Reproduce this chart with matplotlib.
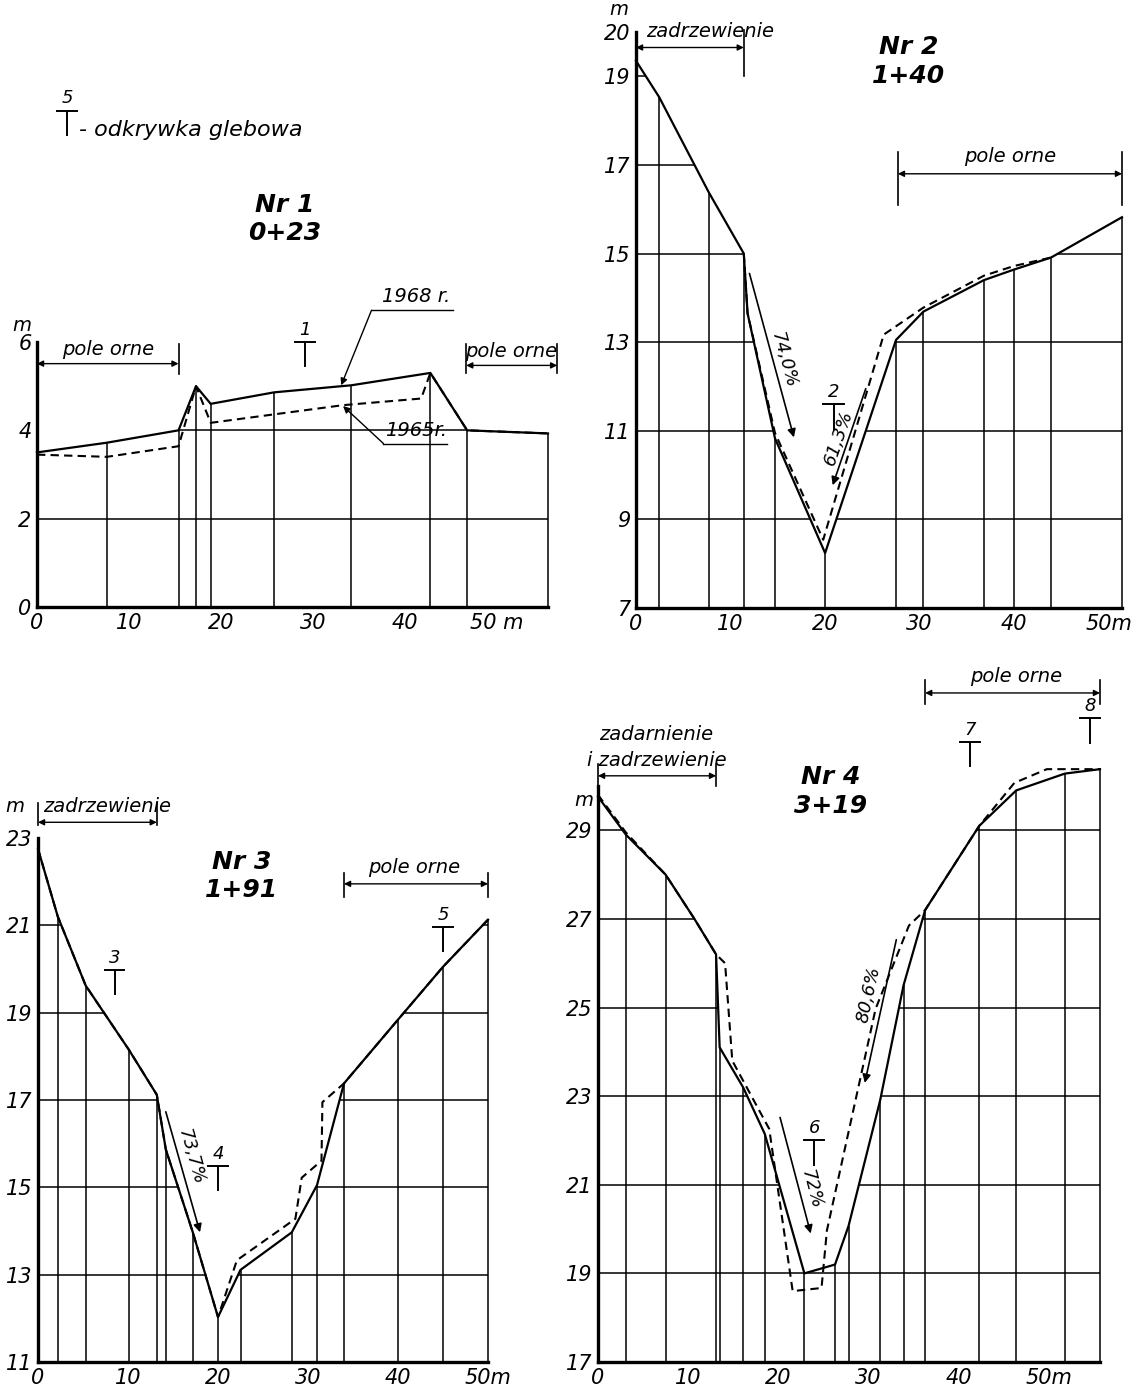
import numpy as np
import matplotlib.pyplot as plt

plt.rcParams['font.family'] = ['Liberation Sans Narrow', 'DejaVu Sans']
plt.rcParams['font.style'] = 'italic'

# profile Nr 1 (0+23)
p1_x = [0, 7.6, 15.4, 17.3, 18.9, 25.8, 34.2, 42.8, 46.8, 55.6]
p1_1968 = [3.5, 3.72, 4.0, 5.0, 4.6, 4.86, 5.02, 5.3, 4.0, 3.93]
p1_1965_x = [0, 7.6, 15.4, 17.3, 18.9, 33.3, 41.8, 42.8, 46.8, 55.6]
p1_1965 = [3.45, 3.4, 3.64, 5.0, 4.17, 4.57, 4.72, 5.3, 4.0, 3.93]
p1_vert = [7.6, 15.4, 17.3, 18.9, 25.8, 34.2, 42.8, 46.8, 55.6]
p1_levels = [2, 4]
p1_yticks = [0, 2, 4, 6]

# profile Nr 2 (1+40)
p2_x = [0, 2.45, 7.7, 11.4, 11.8, 14.7, 20.0, 27.5, 30.4, 36.8, 40.0, 43.9, 51.4]
p2_1968 = [19.35, 18.53, 16.38, 15.0, 13.65, 10.83, 8.24, 13.05, 13.69, 14.4, 14.64, 14.91, 15.82]
p2_1965_x = [11.4, 11.8, 14.7, 19.8, 26.2, 30.4, 36.8, 40.0, 43.9]
p2_1965 = [15.0, 13.65, 10.95, 8.54, 13.17, 13.78, 14.5, 14.72, 14.91]
p2_vert = [2.45, 7.7, 11.4, 14.7, 20.0, 27.5, 30.4, 36.8, 40.0, 43.9, 51.4]
p2_levels = [9, 11, 13, 15, 17, 19]
p2_yticks = [7, 9, 11, 13, 15, 17, 19, 20]

# profile Nr 3 (1+91)
p3_x = [0, 2.2, 5.3, 10.1, 13.2, 14.2, 17.2, 20.0, 22.5, 28.2, 31.0, 34.0, 40.0, 45.0, 50.0]
p3_1968 = [22.75, 21.2, 19.62, 18.15, 17.12, 15.87, 13.97, 12.03, 13.11, 13.97, 15.05, 17.38, 18.84, 20.05, 21.13]
p3_1965_x = [0, 2.2, 5.3, 10.1, 13.2, 14.2, 17.2, 20.0, 22.1, 28.6, 29.3, 31.5, 31.6, 34.0, 40.0, 45.0, 50.0]
p3_1965 = [22.75, 21.2, 19.62, 18.15, 17.12, 15.87, 13.97, 12.03, 13.33, 14.28, 15.22, 15.61, 16.95, 17.38, 18.84, 20.05, 21.13]
p3_vert = [2.2, 5.3, 10.1, 13.2, 14.2, 17.2, 20.0, 22.5, 28.2, 31.0, 34.0, 40.0, 45.0, 50.0]
p3_levels = [13, 15, 17, 19, 21]
p3_yticks = [11, 13, 15, 17, 19, 21, 23]

# profile Nr 4 (3+19)
p4_x = [0, 3.1, 7.5, 10.7, 13.1, 13.5, 16.1, 18.5, 22.9, 26.3, 27.8, 31.3, 33.9, 36.3, 42.3, 46.4, 51.8, 55.7]
p4_1968 = [29.76, 28.9, 28.0, 27.0, 26.2, 24.1, 23.2, 22.15, 19.0, 19.2, 20.07, 22.9, 25.5, 27.2, 29.1, 29.9, 30.28, 30.38]
p4_1965_x = [0, 3.1, 7.5, 10.7, 13.1, 14.1, 14.9, 19.0, 21.6, 24.8, 25.4, 30.8, 34.5, 36.3, 42.3, 46.2, 49.8, 55.7]
p4_1965 = [29.8, 28.95, 28.0, 27.0, 26.2, 26.0, 23.8, 22.26, 18.6, 18.67, 19.97, 24.97, 26.85, 27.2, 29.1, 30.07, 30.38, 30.38]
p4_vert = [3.1, 7.5, 13.1, 13.5, 16.1, 18.5, 22.9, 26.3, 27.8, 31.3, 33.9, 36.3, 42.3, 46.4, 51.8, 55.7]
p4_levels = [19, 21, 23, 25, 27, 29]
p4_yticks = [17, 19, 21, 23, 25, 27, 29]

xticks = [0, 10, 20, 30, 40, 50]

W, H = 1131, 1388
fig = plt.figure(figsize=(W / 100, H / 100), dpi=100)
fig.patch.set_facecolor('white')


def panel(box, xlim, ylim, x, solid, dx, dashed, verts, levels, yticks, last):
    left, right, bottom, top = box
    ax = fig.add_axes([left / W, 1 - bottom / H, (right - left) / W, (bottom - top) / H])
    ax.set_xlim(*xlim)
    ax.set_ylim(*ylim)
    for s in ['top', 'right']:
        ax.spines[s].set_visible(False)
    for s in ['left', 'bottom']:
        ax.spines[s].set_linewidth(2.4)
    ax.set_xticks(xticks, ['0', '10', '20', '30', '40', last])
    ax.set_yticks(yticks, [str(t) for t in yticks])
    ax.tick_params(length=0, labelsize=15, pad=4)
    ax.set_facecolor('none')

    # grid only below the surface line
    poly = plt.Polygon(list(zip(x, solid)) + [(x[-1], ylim[0]), (x[0], ylim[0])],
                       closed=True, transform=ax.transData)
    hl = ax.hlines(levels, 0, x[-1], colors='k', lw=1.1)
    hl.set_clip_path(poly)
    ax.vlines(verts, ylim[0], np.interp(verts, x, solid), colors='k', lw=1.1, clip_on=False)

    ax.plot(x, solid, color='k', lw=1.6, clip_on=False)
    ax.plot(dx, dashed, color='k', lw=1.5, ls=(0, (4, 2.5)), clip_on=False)
    return ax


def pit(ax, x, y, num, fs=13):
    ax.plot([x - 1.1, x + 1.1], [y, y], color='k', lw=1.4, clip_on=False)
    ax.plot([x, x], [y, y - 0.55], color='k', lw=1.4, clip_on=False)
    ax.text(x, y + 0.07, num, ha='center', va='bottom', fontsize=fs)


def span(ax, x0, x1, y, label, tx, ty, t0, t1, ticks=(True, True), ha='center', fs=14):
    ax.annotate('', xy=(x1, y), xytext=(x0, y), annotation_clip=False,
                arrowprops=dict(arrowstyle='<|-|>', lw=1.0, color='k',
                                mutation_scale=9, shrinkA=0, shrinkB=0))
    for xx, on in zip((x0, x1), ticks):
        if on:
            ax.plot([xx, xx], [t0, t1], color='k', lw=1.2, clip_on=False)
    ax.text(tx, ty, label, ha=ha, va='bottom', fontsize=fs)


def slope(ax, p0, p1, label, pos, fs=13):
    ax.annotate('', xy=p1, xytext=p0, annotation_clip=False,
                arrowprops=dict(arrowstyle='-|>', lw=1.2, color='k',
                                mutation_scale=12, shrinkA=0, shrinkB=0))
    a = ax.transData.transform([p0, p1])
    ang = np.degrees(np.arctan2(a[1, 1] - a[0, 1], a[1, 0] - a[0, 0]))
    if ang > 90:
        ang -= 180
    elif ang <= -90:
        ang += 180
    ax.text(pos[0], pos[1], label, rotation=ang, rotation_mode='anchor',
            ha='center', va='center', fontsize=fs)


def title(ax, x, y, nr, km):
    ax.text(x, y, nr, ha='center', va='baseline', fontsize=18, fontweight='bold')
    ax.text(x, y - 0.65, km, ha='center', va='baseline', fontsize=18, fontweight='bold')


# ---- Nr 1
ax1 = panel((37, 548, 607, 342), (0, 55.6), (0, 6), p1_x, p1_1968, p1_1965_x, p1_1965,
            p1_vert, p1_levels, p1_yticks, '50 m')
ax1.text(-1.6, 6.15, 'm', ha='center', va='bottom', fontsize=14)
span(ax1, 0, 15.4, 5.51, 'pole orne', 7.7, 5.62, 5.28, 5.96, ticks=(False, True))
span(ax1, 46.7, 56.6, 5.47, 'pole orne', 51.6, 5.58, 5.3, 5.96)
pit(ax1, 29.2, 6.0, '1')
title(ax1, 27.0, 8.95, 'Nr 1', '0+23')
# legend of the pit symbol
pit(ax1, 3.3, 11.24, '5')
ax1.text(4.6, 10.8, '- odkrywka glebowa', ha='left', va='center', fontsize=16)
# year labels
ax1.text(41.3, 6.82, '1968 r.', ha='center', va='bottom', fontsize=14)
ax1.plot([36.4, 45.3], [6.72, 6.72], color='k', lw=1.0, clip_on=False)
ax1.annotate('', xy=(33.1, 5.02), xytext=(36.4, 6.72), annotation_clip=False,
             arrowprops=dict(arrowstyle='-|>', lw=1.0, color='k', mutation_scale=10,
                             shrinkA=0, shrinkB=0))
ax1.text(41.2, 3.78, '1965r.', ha='center', va='bottom', fontsize=14)
ax1.plot([37.7, 44.6], [3.70, 3.70], color='k', lw=1.0, clip_on=False)
ax1.annotate('', xy=(33.3, 4.55), xytext=(37.7, 3.70), annotation_clip=False,
             arrowprops=dict(arrowstyle='-|>', lw=1.0, color='k', mutation_scale=10,
                             shrinkA=0, shrinkB=0))

# ---- Nr 2
ax2 = panel((636, 1122, 608, 32), (0, 51.4), (7, 20), p2_x, p2_1968, p2_1965_x, p2_1965,
            p2_vert, p2_levels, p2_yticks, '50m')
ax2.text(-1.8, 20.3, 'm', ha='center', va='bottom', fontsize=14)
span(ax2, 0, 11.4, 19.65, 'zadrzewienie', 1.1, 19.8, 19.0, 20.05,
     ticks=(False, True), ha='left')
span(ax2, 27.7, 51.4, 16.8, 'pole orne', 39.6, 16.98, 16.1, 17.3)
title(ax2, 28.8, 19.5, 'Nr 2', '1+40')
pit(ax2, 20.9, 11.6, '2')
slope(ax2, (12.0, 14.55), (16.7, 10.85), '74,0%', (15.6, 12.6))
slope(ax2, (24.3, 11.95), (20.8, 9.77), '61,3%', (21.4, 10.85))

# ---- Nr 3
ax3 = panel((38, 488, 1362, 838), (0, 50), (11, 23), p3_x, p3_1968, p3_1965_x, p3_1965,
            p3_vert, p3_levels, p3_yticks, '50m')
ax3.text(-2.6, 23.5, 'm', ha='center', va='bottom', fontsize=14)
span(ax3, 0, 13.2, 23.36, 'zadrzewienie', 0.6, 23.5, 23.3, 23.8, ha='left')
span(ax3, 34.0, 50.0, 21.95, 'pole orne', 41.8, 22.1, 21.65, 22.2)
title(ax3, 22.6, 22.3, 'Nr 3', '1+91')
pit(ax3, 8.5, 19.97, '3')
pit(ax3, 20.0, 15.48, '4')
pit(ax3, 45.0, 20.96, '5')
slope(ax3, (14.2, 16.73), (18.0, 13.97), '73,7%', (17.0, 15.7))

# ---- Nr 4
ax4 = panel((598, 1100, 1362, 786), (0, 55.7), (17, 30), p4_x, p4_1968, p4_1965_x, p4_1965,
            p4_vert, p4_levels, p4_yticks, '50m')
ax4.text(-1.6, 29.45, 'm', ha='center', va='bottom', fontsize=14)
span(ax4, 0, 13.1, 30.23, 'i zadrzewienie', 6.5, 30.35, 30.0, 30.5)
ax4.text(6.5, 30.95, 'zadarnienie', ha='center', va='bottom', fontsize=14)
span(ax4, 36.3, 55.7, 32.1, 'pole orne', 46.4, 32.25, 31.85, 32.4)
title(ax4, 25.8, 30.05, 'Nr 4', '3+19')
pit(ax4, 41.25, 31.0, '7')
pit(ax4, 54.6, 31.53, '8')
pit(ax4, 24.0, 22.0, '6')
slope(ax4, (20.2, 22.52), (23.6, 19.9), '72%', (23.7, 20.9))
slope(ax4, (33.1, 26.53), (29.6, 23.3), '80,6%', (30.0, 25.3))

fig.savefig('out.png', dpi=100, facecolor='white')
